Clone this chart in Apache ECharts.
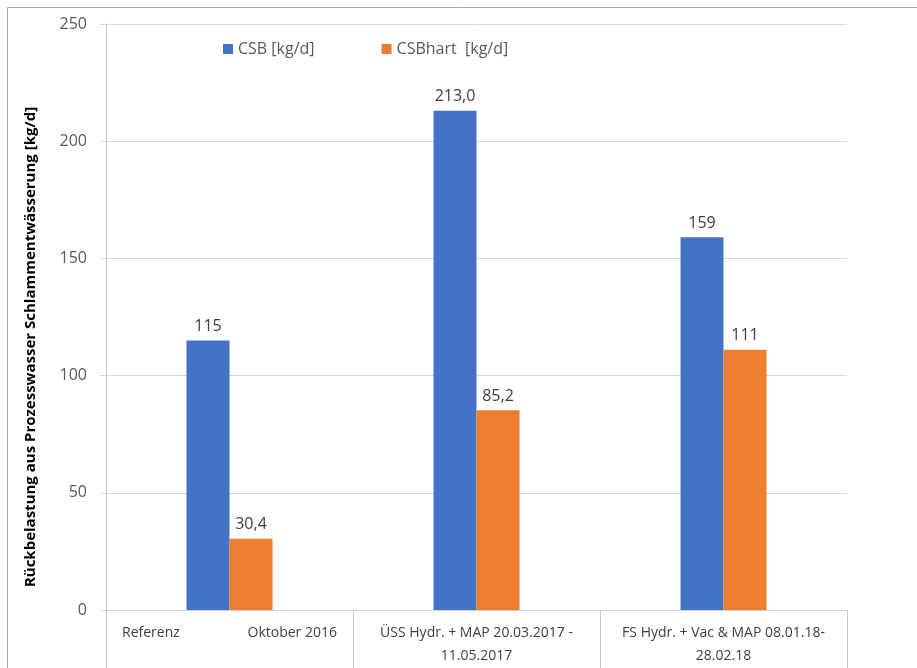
<!DOCTYPE html>
<html>
<head>
<meta charset="utf-8">
<script src="https://cdn.jsdelivr.net/npm/echarts@6/dist/echarts.min.js"></script>
<style>
html,body{margin:0;padding:0;background:#fff;}
#chart{width:917px;height:668px;}
</style>
</head>
<body>
<div id="chart"></div>
<script>
const categories = ['Referenz Oktober 2016', 'ÜSS Hydr. + MAP 20.03.2017 -\n11.05.2017', 'FS Hydr. + Vac & MAP 08.01.18-\n28.02.18'];
const csbValues = [115, 213.0, 159];
const csbLabels = ['115', '213,0', '159'];
const csbHartValues = [30.4, 85.2, 111];
const csbHartLabels = ['30,4', '85,2', '111'];
const yTicks = [0, 50, 100, 150, 200, 250];
const seriesNames = ['CSB [kg/d]', 'CSBhart  [kg/d]'];
const yTitle = 'Rückbelastung aus Prozesswasser Schlammentwässerung [kg/d]';

const font = 'Open Sans';
const chart = echarts.init(document.getElementById('chart'));
chart.setOption({
  animation: false,
  textStyle: { fontFamily: font },
  graphic: [{
    type: 'rect',
    shape: { x: 7.5, y: 7.5, width: 1000, height: 1000 },
    style: { fill: 'none', stroke: '#a6a6a6', lineWidth: 1 },
    silent: true
  }],
  legend: {
    left: 218, top: 36,
    icon: 'rect', itemWidth: 10, itemHeight: 10, itemGap: 67,
    textStyle: { fontFamily: font, fontSize: 16, color: '#595959' },
    data: seriesNames
  },
  grid: { left: 106, right: 70, top: 24, bottom: 58, containLabel: false },
  xAxis: {
    type: 'category',
    data: categories,
    axisLine: { show: true, lineStyle: { color: '#d0d0d0' } },
    axisTick: { show: true, interval: 0, length: 70, lineStyle: { color: '#c8c8c8' } },
    axisLabel: {
      interval: 0, margin: 12, fontSize: 14, lineHeight: 23, color: '#404040', fontFamily: font,
      formatter: function (v, i) {
        if (i === 0) {
          const k = v.indexOf(' ');
          return '{a|' + v.slice(0, k) + '}{b|' + v.slice(k + 1) + '}';
        }
        return v;
      },
      rich: {
        a: { width: 125, align: 'left', fontSize: 14, color: '#404040', fontFamily: font },
        b: { width: 90, align: 'right', fontSize: 14, color: '#404040', fontFamily: font }
      }
    }
  },
  yAxis: {
    type: 'value',
    min: yTicks[0], max: yTicks[yTicks.length - 1], interval: 50,
    name: yTitle,
    nameLocation: 'middle',
    nameGap: 68,
    nameTextStyle: { fontFamily: font, fontSize: 15, fontWeight: 'bold', color: '#000', padding: [0, 60, 0, 0] },
    axisLine: { show: true, lineStyle: { color: '#c8c8c8' } },
    axisTick: { show: true, length: 6, lineStyle: { color: '#d9d9d9' } },
    splitLine: { show: true, lineStyle: { color: '#d9d9d9' } },
    axisLabel: { fontSize: 16, color: '#595959', margin: 19, fontFamily: font }
  },
  series: [
    {
      name: seriesNames[0], type: 'bar', data: csbValues,
      barWidth: 43, barGap: '0%',
      itemStyle: { color: '#4472C4' },
      label: { show: true, position: 'top', distance: 6, fontSize: 16, color: '#404040', fontFamily: font,
        formatter: p => csbLabels[p.dataIndex] }
    },
    {
      name: seriesNames[1], type: 'bar', data: csbHartValues,
      barWidth: 43, barGap: '0%',
      itemStyle: { color: '#ED7D31' },
      label: { show: true, position: 'top', distance: 6, fontSize: 16, color: '#404040', fontFamily: font,
        formatter: p => csbHartLabels[p.dataIndex] }
    }
  ]
});
</script>
</body>
</html>
